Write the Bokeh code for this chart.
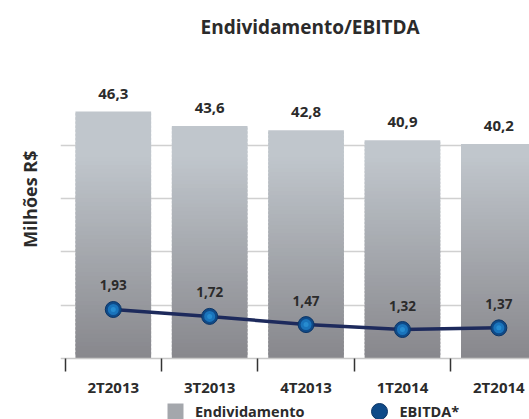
from bokeh.plotting import figure
from bokeh.models import (ColumnDataSource, Range1d, FixedTicker, Legend, LegendItem,
                          Title)
from bokeh.core.properties import value
from bokeh.embed import file_html
from bokeh.resources import INLINE

# ---- data ----
quarters = ["2T2013", "3T2013", "4T2013", "1T2014", "2T2014"]
endividamento = [46.3, 43.6, 42.8, 40.9, 40.2]
ebitda = [1.93, 1.72, 1.47, 1.32, 1.37]
grid_ticks = [10, 20, 30, 40]

FONT = value("Open Sans")
TXT = "#2b2b2b"
xs = list(range(len(quarters)))

p = figure(width=529, height=419, output_backend="svg", toolbar_location=None,
           x_range=Range1d(-0.5475, 4.318), y_range=Range1d(-11.43, 58.86),
           min_border_left=58, min_border_right=0, min_border_top=44,
           min_border_bottom=0)
p.extra_y_ranges = {"eb": Range1d(-1.424, 10.01)}
p.outline_line_color = None
p.xgrid.visible = False
p.ygrid.ticker = FixedTicker(ticks=grid_ticks)
p.ygrid.grid_line_color = "#d0d0d0"
p.ygrid.grid_line_width = 1.5

p.title.text = "Endividamento/EBITDA"
p.title.align = "left"
p.title.offset = 140
p.title.text_font = "Open Sans"
p.title.text_font_style = "bold"
p.title.text_font_size = "19px"
p.title.text_color = TXT

# ---- gradient bars (each bar split into slices from 0 to its value) ----
N = 60
lo = (0x87, 0x87, 0x8c)
hi = (0xc0, 0xc6, 0xcc)


def shade(v):
    t = min(max(v / 38.0, 0.0), 1.0)
    return "#%02x%02x%02x" % tuple(round(a + (b - a) * t) for a, b in zip(lo, hi))


bx, bb, bt, bc = [], [], [], []
for x, v in zip(xs, endividamento):
    for j in range(N):
        b = v * j / N
        t = min(v, v * (j + 1.6) / N)
        bx.append(x)
        bb.append(b)
        bt.append(t)
        bc.append(shade(v * (j + 0.5) / N))
p.vbar(x="x", bottom="b", top="t", width=0.785, fill_color="c", line_color=None,
       source=ColumnDataSource(dict(x=bx, b=bb, t=bt, c=bc)))

bar_src = ColumnDataSource(dict(x=xs, y=endividamento,
                                lab=[f"{v:.1f}".replace(".", ",") for v in endividamento]))
p.text("x", "y", text="lab", source=bar_src, text_font=FONT, text_font_style="bold",
       text_font_size="15px", text_color=TXT, text_align="center",
       text_baseline="alphabetic", y_offset=-18)
# invisible (size 0) marker used only as the legend swatch for the bars
leg_bar = p.scatter("x", "y", source=bar_src, marker="square", size=0,
                    fill_color="#a4a7ac", line_color=None)

# ---- EBITDA line ----
eb_src = ColumnDataSource(dict(x=xs, y=ebitda,
                               lab=[f"{v:.2f}".replace(".", ",") for v in ebitda]))
p.line("x", "y", source=eb_src, y_range_name="eb", line_color="#1d2a5c", line_width=3.5)
eb_pts = p.scatter("x", "y", source=eb_src, y_range_name="eb", size=16,
                   fill_color="#0f4a88", line_color="#0c3566", line_width=1)
p.scatter("x", "y", source=eb_src, y_range_name="eb", size=11, fill_color="#1a74bb",
          line_color=None)
p.scatter("x", "y", source=eb_src, y_range_name="eb", size=5, fill_color="#2a92d6",
          fill_alpha=0.8, line_color=None)
p.text("x", "y", text="lab", source=eb_src, y_range_name="eb", text_font=FONT,
       text_font_style="bold", text_font_size="13.5px", text_color=TXT,
       text_align="center", text_baseline="alphabetic", y_offset=-24)

# ---- x axis at y=0: labels at categories, separator ticks between them ----
xa = p.xaxis[0]
xa.fixed_location = 0
xa.ticker = FixedTicker(ticks=xs, minor_ticks=[i - 0.5 for i in xs])
xa.major_label_overrides = {i: q for i, q in enumerate(quarters)}
xa.major_tick_line_color = None
xa.major_tick_in = 0
xa.major_tick_out = 0
xa.minor_tick_in = 0
xa.minor_tick_out = 13
xa.minor_tick_line_color = "#333333"
xa.minor_tick_line_width = 1.5
xa.axis_line_color = "#c8c8c8"
xa.axis_line_width = 1.5
xa.major_label_standoff = 5
xa.major_label_text_font = "Open Sans"
xa.major_label_text_font_style = "bold"
xa.major_label_text_font_size = "15px"
xa.major_label_text_color = TXT

p.yaxis.visible = False

# y-axis caption as a vertical title on the left, anchored near the top
ylab = Title(text="Milhões R$", align="right", offset=106, standoff=34,
             vertical_align="top",
             text_font="Open Sans", text_font_style="bold", text_font_size="18px",
             text_color=TXT)
p.add_layout(ylab, "left")

# ---- legend ----
legend = Legend(items=[LegendItem(label="Endividamento", renderers=[leg_bar]),
                       LegendItem(label="EBITDA*", renderers=[eb_pts])],
                location=(95, -12), orientation="horizontal",
                glyph_width=40, glyph_height=40, label_height=40,
                label_standoff=0, spacing=55, padding=0, margin=0,
                border_line_color=None, background_fill_alpha=0,
                label_text_font="Open Sans", label_text_font_style="bold",
                label_text_font_size="14.5px", label_text_color=TXT)
p.add_layout(legend, "center")

open("out.html", "w").write(file_html(p, INLINE))
